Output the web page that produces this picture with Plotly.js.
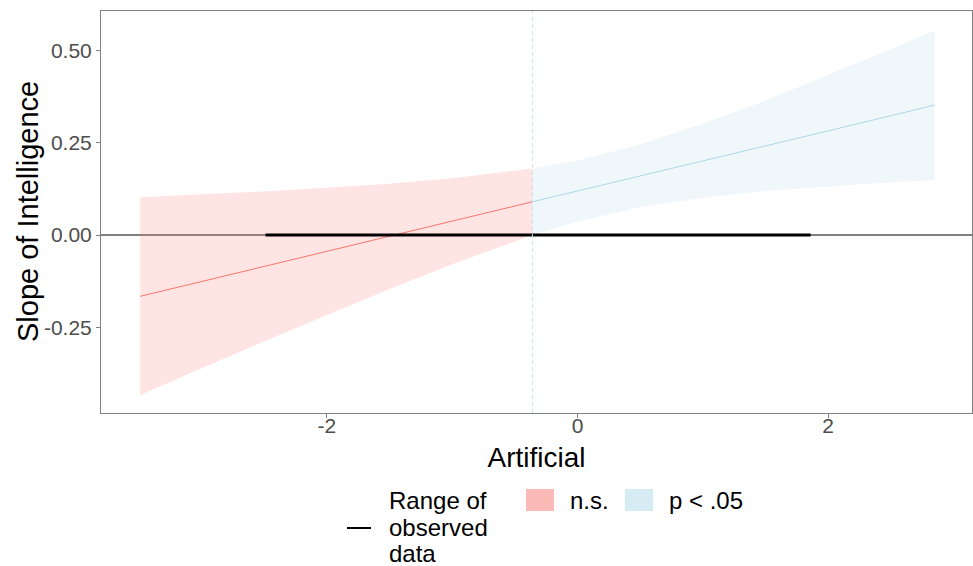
<!DOCTYPE html>
<html>
<head>
<meta charset="utf-8">
<script src="https://cdn.plot.ly/plotly-3.0.1.min.js"></script>
<style>html,body{margin:0;padding:0;background:#fff;}#chart{width:973px;height:566px;}</style>
</head>
<body>
<div id="chart"></div>
<script>
// Not significant region (Johnson-Neyman)
const nsX      = [-3.49, -3.0, -2.5, -2.0, -1.5, -1.0, -0.36];
const nsSlope  = [-0.166, -0.126, -0.085, -0.044, -0.003, 0.037, 0.090];
const nsUpper  = [0.102, 0.109, 0.118, 0.128, 0.139, 0.154, 0.180];
const nsLower  = [-0.433, -0.361, -0.288, -0.216, -0.146, -0.079, 0.000];
// Significant region (p < .05)
const sigX     = [-0.36, 0.0, 0.5, 1.0, 1.5, 2.0, 2.5, 2.85];
const sigSlope = [0.090, 0.119, 0.160, 0.201, 0.241, 0.282, 0.323, 0.352];
const sigUpper = [0.180, 0.202, 0.245, 0.301, 0.364, 0.433, 0.503, 0.554];
const sigLower = [0.000, 0.036, 0.075, 0.101, 0.119, 0.132, 0.143, 0.149];
// Range of observed data and J-N point
const observedRange = [-2.49, 1.86];
const jnPoint = -0.36;
const xTicks = [-2, 0, 2];
const yTicks = [-0.25, 0.00, 0.25, 0.50];
const yTickText = ['-0.25', '0.00', '0.25', '0.50'];
const xTitle = 'Artificial';
const yTitle = 'Slope of Intelligence';
const legendLabels = ['Range of', 'observed', 'data'];
const nsLabel = 'n.s.';
const sigLabel = 'p < .05';

const FONT = 'Liberation Sans, Arial, Helvetica, sans-serif';
const W = 973, H = 566, L = 101, R = 1, T = 11, B = 153;
const pw = W - L - R, ph = H - T - B;
const px2x = p => (p - L) / pw;
const py2y = p => (H - B - p) / ph;

function band(xs, up, lo) {
  return { x: xs.concat(xs.slice().reverse()), y: up.concat(lo.slice().reverse()) };
}
const nsBand = band(nsX, nsUpper, nsLower);
const sigBand = band(sigX, sigUpper, sigLower);

const traces = [
  { x: nsBand.x, y: nsBand.y, type: 'scatter', mode: 'lines', fill: 'toself',
    fillcolor: 'rgba(248,118,109,0.2)', line: { width: 0 }, hoverinfo: 'skip', showlegend: false },
  { x: sigBand.x, y: sigBand.y, type: 'scatter', mode: 'lines', fill: 'toself',
    fillcolor: 'rgba(173,216,230,0.2)', line: { width: 0 }, hoverinfo: 'skip', showlegend: false },
  { x: nsX, y: nsSlope, type: 'scatter', mode: 'lines', line: { color: '#F8766D', width: 1 }, showlegend: false },
  { x: sigX, y: sigSlope, type: 'scatter', mode: 'lines', line: { color: '#ADD8E6', width: 1 }, showlegend: false },
  { x: observedRange, y: [0, 0], type: 'scatter', mode: 'lines', line: { color: '#000', width: 3 }, showlegend: false }
];

const shapes = [
  { type: 'line', xref: 'paper', yref: 'y', x0: 0, x1: 1, y0: 0, y1: 0, line: { color: '#000', width: 1 }, layer: 'below' },
  { type: 'line', xref: 'x', yref: 'paper', x0: jnPoint, x1: jnPoint, y0: 0, y1: 1, line: { color: '#C9E2EC', width: 1, dash: '4px,3px' } },
  // legend keys
  { type: 'line', xref: 'paper', yref: 'paper', x0: px2x(347), x1: px2x(371), y0: py2y(528), y1: py2y(528), line: { color: '#000', width: 2 } },
  { type: 'rect', xref: 'paper', yref: 'paper', x0: px2x(526), x1: px2x(554), y0: py2y(489), y1: py2y(511), fillcolor: 'rgba(248,118,109,0.5)', line: { width: 0 } },
  { type: 'rect', xref: 'paper', yref: 'paper', x0: px2x(625), x1: px2x(653), y0: py2y(489), y1: py2y(511), fillcolor: 'rgba(173,216,230,0.5)', line: { width: 0 } }
];

const annFont = { family: FONT, size: 24, color: '#000' };
const annotations = [];
legendLabels.forEach((t, i) => {
  annotations.push({ xref: 'paper', yref: 'paper', x: px2x(387), y: py2y(501 + i * 26), text: t,
    showarrow: false, xanchor: 'left', yanchor: 'middle', font: annFont });
});
annotations.push({ xref: 'paper', yref: 'paper', x: px2x(568), y: py2y(501), text: nsLabel,
  showarrow: false, xanchor: 'left', yanchor: 'middle', font: annFont });
annotations.push({ xref: 'paper', yref: 'paper', x: px2x(667), y: py2y(501), text: sigLabel,
  showarrow: false, xanchor: 'left', yanchor: 'middle', font: annFont });
// y-axis title
annotations.push({ xref: 'paper', yref: 'paper', x: px2x(28), y: 0.5, text: yTitle, textangle: -90,
  showarrow: false, xanchor: 'center', yanchor: 'middle', font: { family: FONT, size: 29, color: '#000' } });

const layout = {
  width: W, height: H,
  margin: { l: L, r: R, t: T, b: B },
  paper_bgcolor: '#fff', plot_bgcolor: '#fff',
  showlegend: false,
  font: { family: FONT },
  xaxis: {
    range: [-3.803, 3.148], tickvals: xTicks, ticktext: xTicks.map(String),
    showgrid: false, zeroline: false, showline: true, mirror: true, linecolor: '#808080', linewidth: 1,
    ticks: 'outside', ticklen: 4, tickcolor: '#808080', tickwidth: 1,
    ticklabelstandoff: -10,
    tickfont: { family: FONT, size: 21, color: '#4D4D4D' },
    title: { text: xTitle, font: { family: FONT, size: 28, color: '#000' }, standoff: 11 },
    automargin: false
  },
  yaxis: {
    range: [-0.482, 0.6066], tickvals: yTicks, ticktext: yTickText,
    showgrid: false, zeroline: false, showline: true, mirror: true, linecolor: '#808080', linewidth: 1,
    ticks: 'outside', ticklen: 4, tickcolor: '#808080', tickwidth: 1,
    tickfont: { family: FONT, size: 21, color: '#4D4D4D' },
    automargin: false
  },
  shapes: shapes,
  annotations: annotations
};

Plotly.newPlot('chart', traces, layout, { displayModeBar: false, staticPlot: true });
</script>
</body>
</html>
